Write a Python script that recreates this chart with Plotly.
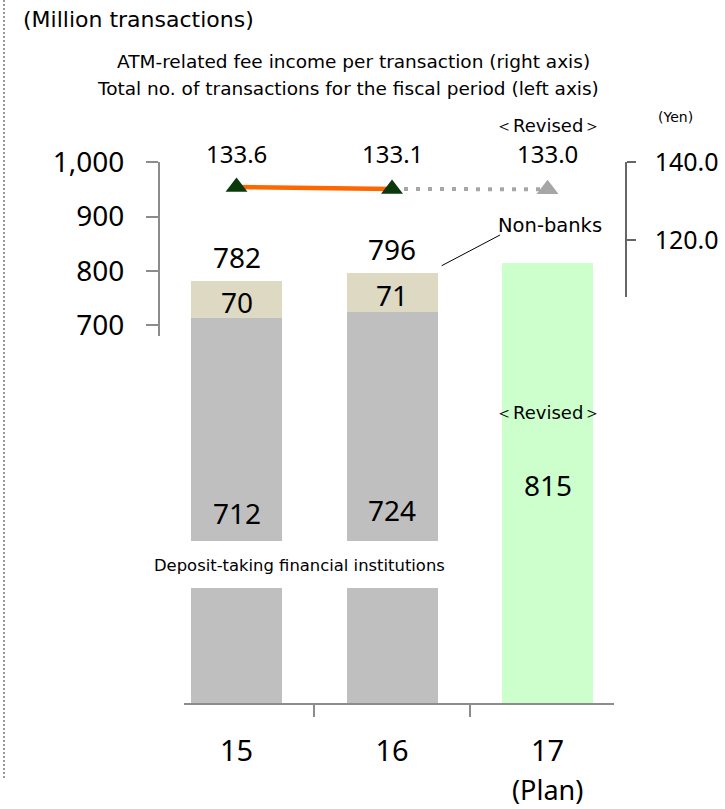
import plotly.graph_objects as go

W, H = 725, 809
def X(px): return px / W
def Y(py): return 1 - py / H

# ---- data ----
categories = ["15", "16", "17"]
deposit_taking = [712, 724, None]
non_banks = [70, 71, None]
plan_total = [None, None, 815]
totals = [782, 796]
fee_actual = [133.6, 133.1]          # FY15, FY16
fee_plan = [133.1, 133.0]            # FY16 -> FY17 plan
left_ticks = [700, 800, 900, 1000]
right_ticks = [120, 140]

NUM = "Noto Sans"
TXT = "DejaVu Sans"
GRAY = "#bfbfbf"
BEIGE = "#ddd9c3"
GREEN = "#ccffcc"
AXIS = "#8c8c8c"

def ci(c):  # category index on the category axes
    return categories.index(c)

fig = go.Figure()
bw = 0.585
for xa, ya in (("x", "y"), ("x2", "y2")):
    fig.add_trace(go.Bar(x=categories, y=deposit_taking, marker_color=GRAY, width=bw,
                         marker_line_width=0, xaxis=xa, yaxis=ya, showlegend=False))
    fig.add_trace(go.Bar(x=categories, y=non_banks, marker_color=BEIGE, width=bw,
                         marker_line_width=0, xaxis=xa, yaxis=ya, showlegend=False))
    fig.add_trace(go.Bar(x=categories, y=plan_total, marker_color=GREEN, width=bw,
                         marker_line_width=0, xaxis=xa, yaxis=ya, showlegend=False))

fig.add_trace(go.Scatter(x=categories[1:], y=fee_plan, mode="lines+markers",
                         line=dict(color="#a6a6a6", width=4, dash="4px,8px"),
                         marker=dict(symbol="triangle-up", size=19,
                                     color=["rgba(0,0,0,0)", "#a6a6a6"]),
                         xaxis="x3", yaxis="y3", showlegend=False, cliponaxis=False))
fig.add_trace(go.Scatter(x=categories[:2], y=fee_actual, mode="lines+markers",
                         line=dict(color="#ff6600", width=4.5),
                         marker=dict(symbol="triangle-up", size=19, color="#0a3a0a"),
                         xaxis="x3", yaxis="y3", showlegend=False, cliponaxis=False))

xrange = [-0.3376, 2.424]
xdom = [X(184), X(613.5)]
ann = []
def A(text, x, y, size, family=NUM, xref="paper", yref="paper", xanchor="center", yshift=0):
    ann.append(dict(text=text, x=x, y=y, xref=xref, yref=yref, xanchor=xanchor,
                    yanchor="middle", showarrow=False, yshift=yshift,
                    font=dict(family=family, size=size, color="black")))

A("(Million transactions)", X(21), Y(20), 22, TXT, xanchor="left")
A("ATM-related fee income per transaction (right axis)", X(353), Y(62), 18.5, TXT)
A("Total no. of transactions for the fiscal period (left axis)", X(348), Y(88), 18.5, TXT)
A("＜Revised＞", ci("17"), Y(125), 18, TXT, xref="x3")
A("(Yen)", X(675), Y(117), 14, TXT)
for c, v in zip(categories, fee_actual + fee_plan[1:]):
    A(f"{v:.1f}", ci(c), Y(153), 24, xref="x3")
for c, t in zip(categories[:2], totals):
    A(str(t), ci(c), t, 28, xref="x2", yref="y2", yshift=24)
for c, d, n in zip(categories[:2], deposit_taking[:2], non_banks[:2]):
    A(str(n), ci(c), d + n / 2, 28, xref="x2", yref="y2", yshift=-2)
for c, d, py in zip(categories[:2], deposit_taking[:2], [513, 510]):
    A(str(d), ci(c), Y(py), 28, xref="x")
A("＜Revised＞", ci("17"), Y(412), 18, TXT, xref="x")
A(str(plan_total[2]), ci("17"), Y(485), 28, xref="x")
A("Deposit-taking financial institutions", X(299.5), Y(565), 16.4, TXT)
A("Non-banks", X(550), Y(226), 19.5, TXT)
A("(Plan)", ci("17"), Y(789), 27, xref="x")

shapes = [
    dict(type="rect", xref="paper", yref="paper", x0=X(186), x1=X(460), y0=Y(588), y1=Y(541),
         fillcolor="white", line=dict(width=0), layer="above"),
    dict(type="line", xref="paper", yref="paper", x0=X(441.7), y0=Y(265.7), x1=X(500), y1=Y(235),
         line=dict(color="black", width=1)),
    dict(type="line", xref="paper", yref="paper", x0=X(4), y0=Y(0), x1=X(4), y1=Y(778),
         line=dict(color="#9a9a9a", width=2, dash="2px,2px")),
]

fig.update_layout(
    width=W, height=H, margin=dict(l=0, r=0, t=0, b=0, autoexpand=False),
    paper_bgcolor="white", plot_bgcolor="rgba(0,0,0,0)",
    barmode="stack", showlegend=False,
    font=dict(family=NUM, color="black"),
    xaxis=dict(domain=xdom, anchor="y", type="category", categoryarray=categories,
               range=xrange, showline=True, linecolor=AXIS, linewidth=2,
               ticks="outside", tickson="boundaries", ticklen=12, tickwidth=2, tickcolor=AXIS,
               tickfont=dict(size=29, family=NUM), ticklabelstandoff=21, automargin=False,
               showgrid=False, zeroline=False, fixedrange=True),
    yaxis=dict(domain=[Y(703), Y(336)], anchor="x", range=[0, 679.7], visible=False,
               automargin=False),
    xaxis2=dict(domain=xdom, anchor="y2", type="category", categoryarray=categories,
                range=xrange, visible=False, automargin=False),
    yaxis2=dict(domain=[Y(336), Y(162.3)], anchor="free", position=X(159),
                range=[679.7, 1000], tickvals=left_ticks, tickformat=",",
                showline=True, linecolor=AXIS, linewidth=2, ticks="outside", ticklen=12,
                tickwidth=2, tickcolor=AXIS, tickfont=dict(size=28, family=NUM),
                ticklabelstandoff=16, showgrid=False, zeroline=False, automargin=False),
    xaxis3=dict(domain=xdom, anchor="y3", type="category", categoryarray=categories,
                range=xrange, visible=False, automargin=False),
    yaxis3=dict(domain=[Y(297), Y(162)], anchor="free", position=X(625.7), side="right",
                range=[105.4, 140], tickvals=right_ticks, tickformat=".1f",
                showline=True, linecolor="#666666", linewidth=2, ticks="outside", ticklen=9,
                tickwidth=2, tickcolor="#666666", tickfont=dict(size=25, family=NUM),
                ticklabelstandoff=14, showgrid=False, zeroline=False, automargin=False),
    annotations=ann, shapes=shapes,
)

fig.write_html("out.html", config={"displayModeBar": False},
               post_script="document.body.style.margin='0';document.body.style.overflow='hidden';")
